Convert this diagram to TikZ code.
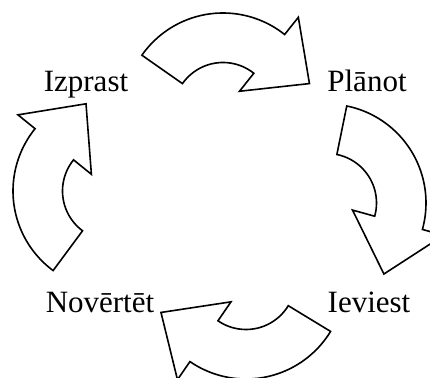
\documentclass[tikz,border=0pt]{standalone}
\usepackage{fontspec}
\setmainfont{Liberation Serif}
\tikzset{
  arrowshape/.style={draw=black, fill=white, line width=1.6pt, line join=miter},
  lbl/.style={inner sep=0pt, anchor=base, font=\fontsize{31}{36}\selectfont}
}
% #1 centre, #2 tail angle, #3 end angle, #4 tip angle
\newcommand{\cyclearrow}[4]{%
  \begin{scope}[shift={(#1)}]
    \draw[arrowshape] (#2:99pt) arc[start angle=#2, end angle=#3, radius=99pt]
      -- (#3:121pt) -- (#4:91pt) -- (#3:26.5pt) -- (#3:49.5pt)
      arc[start angle=#3, end angle=#2, radius=49.5pt] -- cycle;
  \end{scope}}
\begin{document}
\begin{tikzpicture}[x=1pt,y=1pt]
  \useasboundingbox (0,0) rectangle (430,377);
  \clip (0,0) rectangle (430,377);
  \cyclearrow{223pt,265pt}{145}{51.5}{18.2}
  \cyclearrow{327pt,174pt}{78.5}{-15.5}{-51.3}
  \cyclearrow{246pt,97pt}{-31.3}{-124.5}{-159.1}
  \cyclearrow{112pt,186pt}{233.5}{141}{106.6}
  \node[lbl] (izprast) at (86,285) {Izprast};
  \node[lbl] (planot) at (367,285) {Plānot};
  \node[lbl] (novertet) at (100,64) {Novērtēt};
  \node[lbl] (ieviest) at (369,65) {Ieviest};
\end{tikzpicture}
\end{document}
